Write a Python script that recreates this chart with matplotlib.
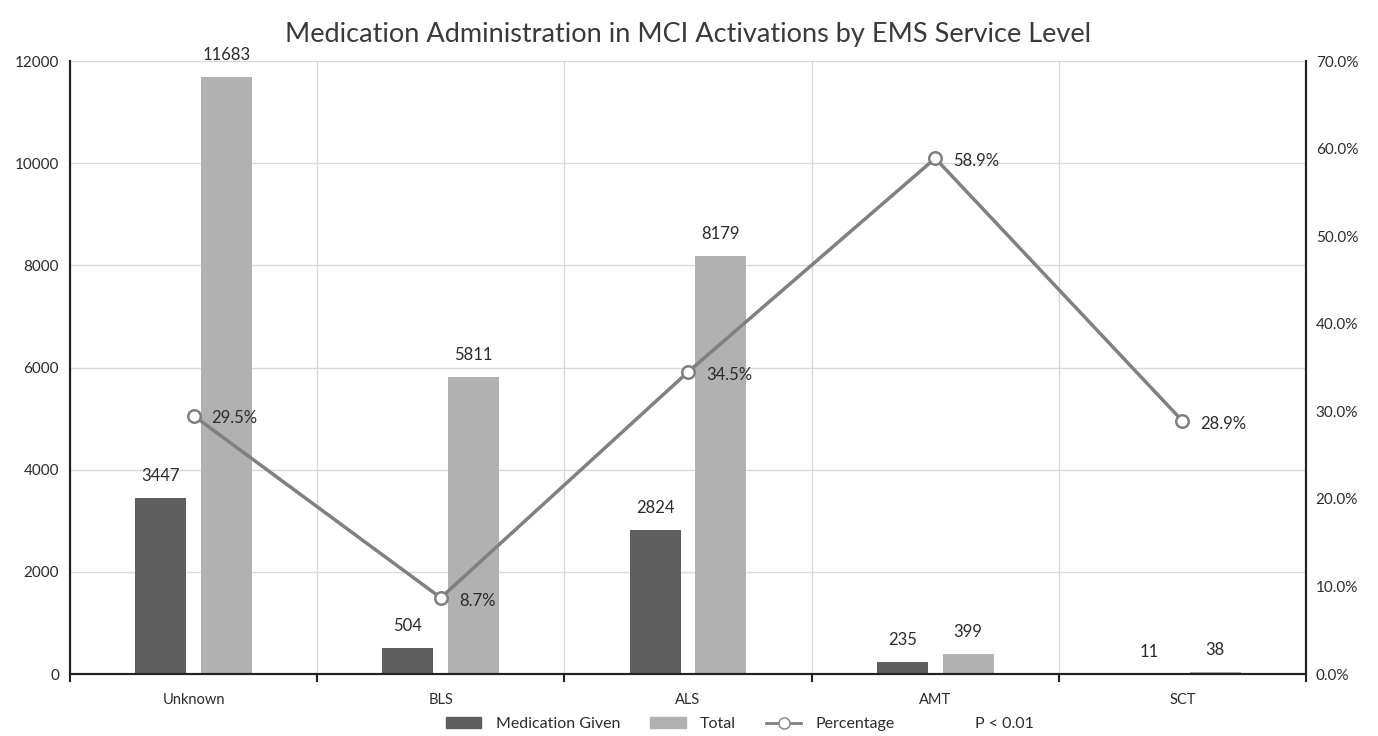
import numpy as np
from matplotlib import pyplot as plt
from matplotlib.lines import Line2D
from matplotlib.patches import Patch

# 数据
categories = ['Unknown', 'BLS', 'ALS', 'AMT', 'SCT']
medication_given = [3447, 504, 2824, 235, 11]
total = [11683, 5811, 8179, 399, 38]
percentage = [29.5, 8.7, 34.5, 58.9, 28.9]

plt.rcParams['font.family'] = ['Lato', 'DejaVu Sans']
text_color = '#2b2b2b'

fig = plt.figure(figsize=(13.78, 7.36), dpi=100)
ax = fig.add_axes([0.0508, 0.0842, 0.897, 0.8328])
ax2 = ax.twinx()

x = np.arange(len(categories))
w = 0.206
bars1 = ax.bar(x - 0.133, medication_given, w, color='#5e5e5e', zorder=2)
bars2 = ax.bar(x + 0.133, total, w, color='#b1b1b1', zorder=2)

# 柱子上方的数值
for bars, vals in ((bars1, medication_given), (bars2, total)):
    for b, v in zip(bars, vals):
        ax.annotate(str(v), (b.get_x() + b.get_width() / 2, v), xytext=(0, 10),
                    textcoords='offset points', ha='center', va='bottom',
                    fontsize=12, color=text_color)

ax2.plot(x, percentage, color='#808080', lw=2.5, marker='o', markersize=9,
         markerfacecolor='white', markeredgecolor='#808080', markeredgewidth=1.8,
         zorder=3)
for xi, p in zip(x, percentage):
    ax2.annotate('%.1f%%' % p, (xi, p), xytext=(13, -2), textcoords='offset points',
                 ha='left', va='center', fontsize=12, color=text_color)

ax.set_xlim(-0.5, 4.5)
ax.set_ylim(0, 12000)
ax.set_yticks(range(0, 12001, 2000))
ax2.set_ylim(0, 70)
ax2.set_yticks(range(0, 71, 10))
ax2.set_yticklabels(['%.1f%%' % t for t in range(0, 71, 10)])

ax.set_xticks(x)
ax.set_xticklabels(categories)
ax.set_xticks(np.arange(-0.5, 4.6, 1), minor=True)
ax.tick_params(axis='x', which='major', length=0, pad=14, labelsize=10.5, labelcolor=text_color)
ax.tick_params(axis='x', which='minor', length=6, width=1.5, color='#222222')
ax.tick_params(axis='y', length=0, pad=8, labelsize=11, labelcolor=text_color)
ax2.tick_params(axis='y', length=0, pad=7, labelsize=11, labelcolor=text_color)

ax.grid(axis='y', color='#d9d9d9', lw=1, zorder=0)
ax.grid(axis='x', which='minor', color='#d9d9d9', lw=1, zorder=0)
ax.set_axisbelow(True)

for a in (ax, ax2):
    a.spines['top'].set_visible(False)
    for s in ('left', 'right', 'bottom'):
        a.spines[s].set_color('#222222')
        a.spines[s].set_linewidth(1.5)

plt.title('Medication Administration in MCI Activations by EMS Service Level',
          fontsize=19.5, color='#3a3a3a', pad=14)

handles = [Patch(color='#5e5e5e'), Patch(color='#b1b1b1'),
           Line2D([], [], color='#808080', lw=2, marker='o', markersize=8,
                  markerfacecolor='white', markeredgecolor='#808080'),
           Line2D([], [], color='none')]
labels = ['Medication Given', 'Total', 'Percentage', 'P < 0.01']
fig.legend(handles, labels, loc='lower center', ncol=4, frameon=False,
           bbox_to_anchor=(0.537, -0.013), fontsize=11.5, handlelength=2.2,
           handleheight=0.6, handletextpad=0.9, columnspacing=1.9,
           labelcolor=text_color)

plt.savefig('out.png', dpi=100)
